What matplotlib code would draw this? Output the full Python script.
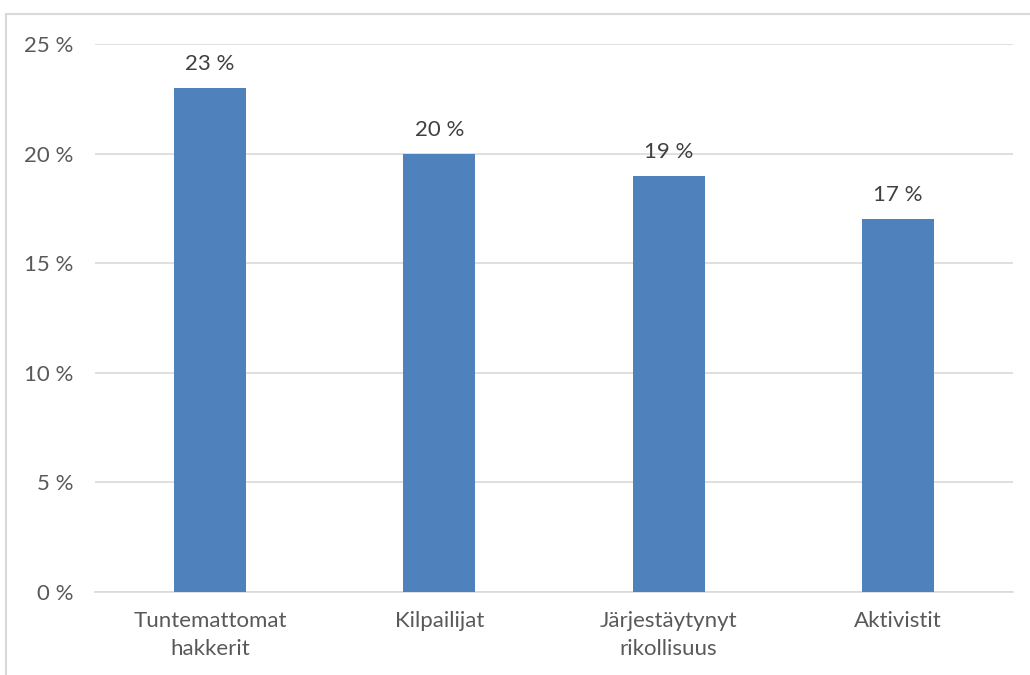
import matplotlib
matplotlib.use('Agg')
import matplotlib.pyplot as plt
import matplotlib.patches as patches

# Data
categories = ['Tuntemattomat\nhakkerit', 'Kilpailijat', 'Järjestäytynyt\nrikollisuus', 'Aktivistit']
values = [23, 20, 19, 17]
y_ticks = [0, 5, 10, 15, 20, 25]

text_color = '#595959'
grid_color = '#D9D9D9'
bar_color = '#4F81BD'

plt.rcParams['font.family'] = ['Lato', 'DejaVu Sans']

fig = plt.figure(figsize=(10.30, 6.75), dpi=100)
ax = fig.add_axes([95.4 / 1030, 1 - 592 / 675, (1012.6 - 95.4) / 1030, (592 - 44) / 675])

x = list(range(len(categories)))
bars = ax.bar(x, values, width=0.314, color=bar_color, zorder=3)

for b, v in zip(bars, values):
    ax.annotate(f'{v} %', (b.get_x() + b.get_width() / 2, v), xytext=(0, 10),
                textcoords='offset points', ha='center', va='bottom',
                fontsize=16, color='#404040')

ax.set_xlim(-0.5, len(categories) - 0.5)
ax.set_ylim(0, 25)
ax.set_yticks(y_ticks)
ax.set_yticklabels([f'{t} %' for t in y_ticks])
ax.set_xticks(x)
ax.set_xticklabels(categories, linespacing=1.45)

ax.yaxis.grid(True, color=grid_color, linewidth=1.2, zorder=0)
for s in ['top', 'right', 'left']:
    ax.spines[s].set_visible(False)
ax.spines['bottom'].set_color(grid_color)
ax.spines['bottom'].set_linewidth(1.2)
ax.tick_params(axis='both', length=0, labelsize=16, labelcolor=text_color)
ax.tick_params(axis='y', pad=16)
ax.tick_params(axis='x', pad=14)

# chart outer border (left and top edges visible)
border = patches.Rectangle((6 / 1030, -0.1), 1.2, 1 - 14 / 675 + 0.1,
                           transform=fig.transFigure, fill=False,
                           edgecolor=grid_color, linewidth=1.5, clip_on=False)
fig.patches.append(border)

fig.savefig('out.png', dpi=100)
